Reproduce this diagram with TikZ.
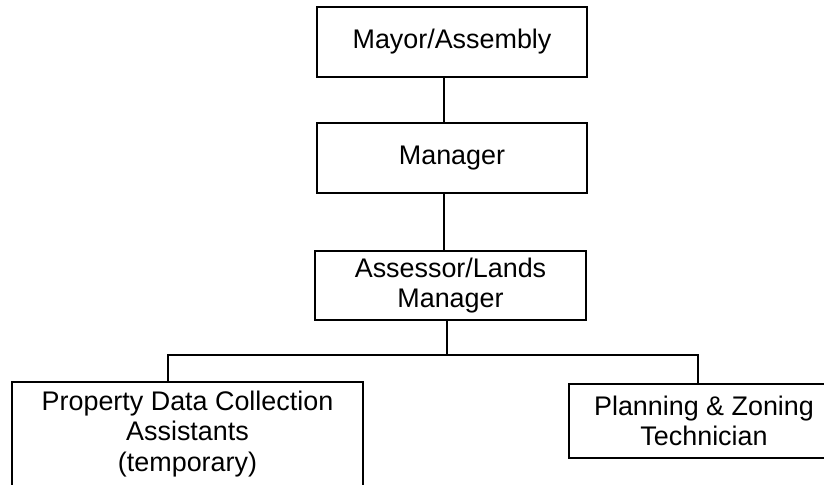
\documentclass[tikz,border=0pt]{standalone}
\usepackage{fontspec}
\setmainfont{Liberation Sans}
\usetikzlibrary{calc}

\begin{document}
\begin{tikzpicture}[x=1bp, y=-1bp,
	line width=2.8bp,
	unit/.style={draw, align=center, inner sep=0pt, outer sep=0pt,
		font=\fontsize{27}{30.5}\selectfont}]
	\useasboundingbox (0,0) rectangle (824,485);
	\clip (0,0) rectangle (824,485);
	% boxes
	\node[unit, minimum width=270bp, minimum height=70bp] (mayor) at (452,42) {Mayor/Assembly};
	\node[unit, minimum width=270bp, minimum height=70bp] (manager) at (452,158) {Manager};
	\node[unit, minimum width=271bp, minimum height=69bp] (assessor) at (450.5,285.5) {Assessor/Lands\\Manager};
	\node[unit, minimum width=351bp, minimum height=104bp] (pdc) at (187.5,434) {Property Data Collection\\Assistants\\(temporary)};
	\node[unit, minimum width=270bp, minimum height=74bp] (pz) at (704,421) {Planning \& Zoning\\Technician};
	% links
	\coordinate (spine) at (444,0);
	\draw (mayor.south -| spine) -- (manager.north -| spine);
	\draw (manager.south -| spine) -- (assessor.north -| spine);
	\coordinate (barM) at (447,355);
	\coordinate (barL) at (168,355);
	\coordinate (barR) at (698,355);
	\draw (assessor.south -| barM) -- (barM);
	\draw (barL |- pdc.north) -- (barL) -- (barR) -- (barR |- pz.north);
\end{tikzpicture}
\end{document}
